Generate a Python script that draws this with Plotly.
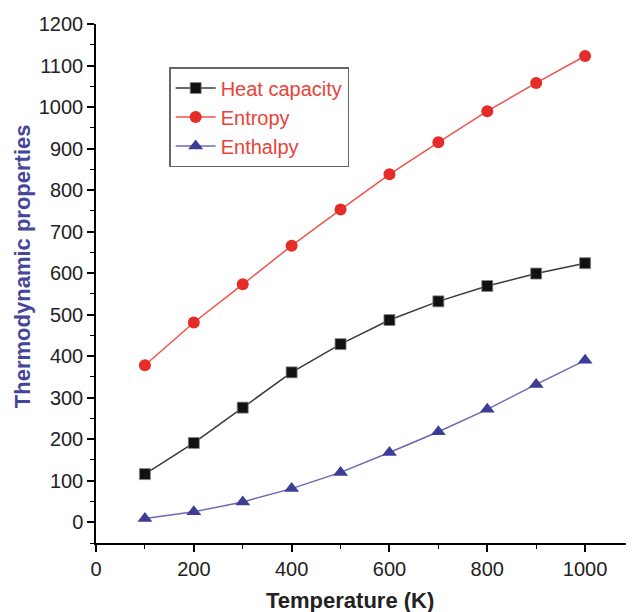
import plotly.graph_objects as go

temperature = [100, 200, 300, 400, 500, 600, 700, 800, 900, 1000]
heat_capacity = [116, 191, 276, 361, 429, 487, 532, 569, 599, 624]
entropy = [378, 481, 573, 666, 753, 838, 915, 990, 1058, 1123]
enthalpy = [9, 25, 49, 81, 120, 168, 218, 272, 332, 390]

x_ticks = [0, 200, 400, 600, 800, 1000]
y_ticks = list(range(0, 1201, 100))

FONT = "Liberation Sans, Arial, sans-serif"

fig = go.Figure()
fig.add_trace(go.Scatter(
    x=temperature, y=heat_capacity, name="Heat capacity", mode="lines+markers",
    legendgroup="a",
    line=dict(color="#3a3a3a", width=1.5),
    marker=dict(symbol="square", size=11, color="#111111", line=dict(color="#888888", width=0.8)),
))
fig.add_trace(go.Scatter(
    x=temperature, y=entropy, name="Entropy", mode="lines+markers",
    legendgroup="b",
    line=dict(color="#f0524c", width=1.5),
    marker=dict(symbol="circle", size=12, color="#e42d28"),
))
fig.add_trace(go.Scatter(
    x=temperature, y=enthalpy, name="Enthalpy", mode="lines+markers",
    legendgroup="c",
    line=dict(color="#6a6ab4", width=1.5),
    marker=dict(symbol="triangle-up", size=13, color="#3d3d96"),
))

# page body has an 8px default margin, so the figure is offset by 8px
fig.update_layout(
    width=626, height=604,
    margin=dict(l=88, r=0, t=16, b=69),
    paper_bgcolor="white", plot_bgcolor="white",
    font=dict(family=FONT, color="#222222", size=19),
    showlegend=True,
    legend=dict(
        x=0.136, y=0.917, xanchor="left", yanchor="top",
        bordercolor="#666666", borderwidth=1.5, bgcolor="white",
        font=dict(family=FONT, size=20, color="#e8433a"),
        traceorder="normal",
        itemwidth=40,
    ),
    annotations=[
        dict(text="<b>Temperature (K)</b>", xref="paper", yref="paper",
             x=0.472, y=-0.110, xanchor="center", yanchor="middle",
             showarrow=False, font=dict(size=22, color="#222222")),
        dict(text="<b>Thermodynamic properties</b>", xref="paper", yref="paper",
             x=-0.1375, y=0.5335, xanchor="center", yanchor="middle", textangle=-90,
             showarrow=False, font=dict(size=22, color="#45459a")),
    ],
)
fig.update_xaxes(
    range=[0, 1100], tickvals=x_ticks, ticktext=[str(v) for v in x_ticks],
    automargin=False,
    showline=True, linecolor="black", linewidth=1.5,
    ticks="outside", ticklen=7, tickwidth=1.5, tickcolor="black",
    showgrid=False, zeroline=False,
    tickfont=dict(size=20, color="#222222"),
    minor=dict(dtick=100, tick0=0, ticks="outside", ticklen=4, tickwidth=1.2, tickcolor="black", showgrid=False),
)
fig.update_yaxes(
    range=[-50, 1200], tickvals=y_ticks, ticktext=[str(v) for v in y_ticks],
    automargin=False,
    showline=True, linecolor="black", linewidth=1.5,
    ticks="outside", ticklen=7, tickwidth=1.5, tickcolor="black",
    showgrid=False, zeroline=False,
    tickfont=dict(size=20, color="#222222"),
    minor=dict(dtick=50, tick0=0, ticks="outside", ticklen=4, tickwidth=1.2, tickcolor="black", showgrid=False),
)

fig.write_html("out.html")
